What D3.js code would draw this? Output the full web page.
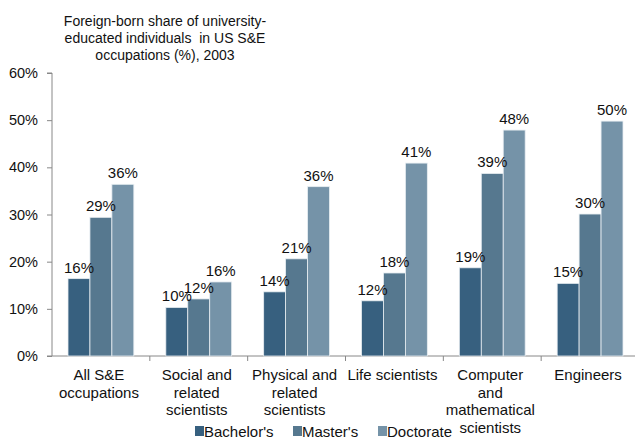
<!DOCTYPE html>
<html>
<head>
<meta charset="utf-8">
<script src="https://cdn.jsdelivr.net/npm/d3@7/dist/d3.min.js"></script>
<style>
  html, body { margin: 0; padding: 0; background: #fff; }
  svg { display: block; font-family: "Liberation Sans", Arial, sans-serif; }
</style>
</head>
<body>
<svg id="chart" width="635" height="439"></svg>
<script>
// Occupation groups (each label split into display lines)
const categories = [
  ["All S&E", "occupations"],
  ["Social and", "related", "scientists"],
  ["Physical and", "related", "scientists"],
  ["Life scientists"],
  ["Computer", "and", "mathematical", "scientists"],
  ["Engineers"]
];
const seriesNames = ["Bachelor's", "Master's", "Doctorate"];

// Foreign-born share (%) by degree level
const bachelors = [16.4, 10.3, 13.6, 11.7, 18.7, 15.4];
const masters   = [29.4, 12.1, 20.6, 17.6, 38.7, 30.1];
const doctorate = [36.4, 15.7, 35.9, 40.9, 47.9, 49.8];

const yTicks = [0, 10, 20, 30, 40, 50, 60];
const titleLines = [
  "Foreign-born share of university-",
  "educated individuals  in US S&E",
  "occupations (%), 2003"
];

const colors = ["#37607f", "#56788f", "#7593a8"];
const seriesValues = [bachelors, masters, doctorate];

const svg = d3.select("#chart");
const plotLeft = 52, plotRight = 639, plotTop = 73, plotBottom = 356;

const catKeys = categories.map((c, i) => i);
const x = d3.scaleBand().domain(catKeys).range([plotLeft, plotRight]).paddingInner(0).paddingOuter(0);
const xIn = d3.scaleBand().domain(seriesNames).range([16, x.bandwidth() - 16]).padding(0);
const y = d3.scaleLinear().domain([0, 60]).range([plotBottom, plotTop]);

// Title
svg.append("g").selectAll("text").data(titleLines).join("text")
  .attr("x", 165).attr("y", (d, i) => 26 + i * 17)
  .attr("text-anchor", "middle").attr("font-size", 14).attr("fill", "#111")
  .style("white-space", "pre")
  .text(d => d);

// Y axis
const yAxis = svg.append("g").attr("transform", `translate(${plotLeft},0)`)
  .call(d3.axisLeft(y).tickValues(yTicks).tickSize(5).tickPadding(9).tickFormat(d => d + "%"));
yAxis.select(".domain").attr("stroke", "#888").attr("d", `M-5,${plotTop}H0V${plotBottom}H-5`);
yAxis.selectAll(".tick line").attr("stroke", "#888");
yAxis.selectAll(".tick text").attr("font-size", 14.5).attr("fill", "#111")
  .attr("font-family", "'Liberation Sans', Arial, sans-serif");

// X axis line with ticks at category boundaries
const xAxis = svg.append("g").attr("transform", `translate(0,${plotBottom})`);
xAxis.append("line").attr("x1", plotLeft).attr("x2", plotRight).attr("stroke", "#888");
xAxis.selectAll("line.tk").data(catKeys.slice(1).concat([catKeys.length])).join("line")
  .attr("class", "tk")
  .attr("x1", d => plotLeft + d * x.step()).attr("x2", d => plotLeft + d * x.step())
  .attr("y1", 0).attr("y2", 5).attr("stroke", "#888");

// Bars
const groups = svg.append("g").selectAll("g").data(catKeys).join("g")
  .attr("transform", d => `translate(${x(d)},0)`);

groups.selectAll("rect")
  .data(ci => seriesNames.map((s, si) => ({ s, si, v: seriesValues[si][ci] })))
  .join("rect")
  .attr("x", d => xIn(d.s))
  .attr("width", xIn.bandwidth())
  .attr("y", d => y(d.v))
  .attr("height", d => y(0) - y(d.v))
  .attr("fill", d => colors[d.si])
  .attr("stroke", "#e8eef2").attr("stroke-width", 0.8);

// Value labels
groups.selectAll("text.val")
  .data(ci => seriesNames.map((s, si) => ({ s, si, v: seriesValues[si][ci] })))
  .join("text").attr("class", "val")
  .attr("x", d => xIn(d.s) + xIn.bandwidth() / 2)
  .attr("y", d => y(d.v) - 6)
  .attr("text-anchor", "middle").attr("font-size", 15).attr("fill", "#111")
  .text(d => d3.format(".0f")(d.v) + "%");

// Category labels
groups.append("text")
  .attr("text-anchor", "middle").attr("font-size", 15).attr("fill", "#111")
  .selectAll("tspan").data(ci => categories[ci]).join("tspan")
  .attr("x", x.bandwidth() / 2 - 2)
  .attr("y", (d, i) => 380 + i * 17.7)
  .text(d => d);

// Legend
const legendX = [195, 293, 378];
const legend = svg.append("g").selectAll("g").data(seriesNames).join("g")
  .attr("transform", (d, i) => `translate(${legendX[i]},0)`);
legend.append("rect").attr("x", 0).attr("y", 426).attr("width", 9).attr("height", 10)
  .attr("fill", (d, i) => colors[i]);
legend.append("text").attr("x", 9).attr("y", 437).attr("font-size", 15).attr("fill", "#111")
  .text(d => d);
</script>
</body>
</html>
